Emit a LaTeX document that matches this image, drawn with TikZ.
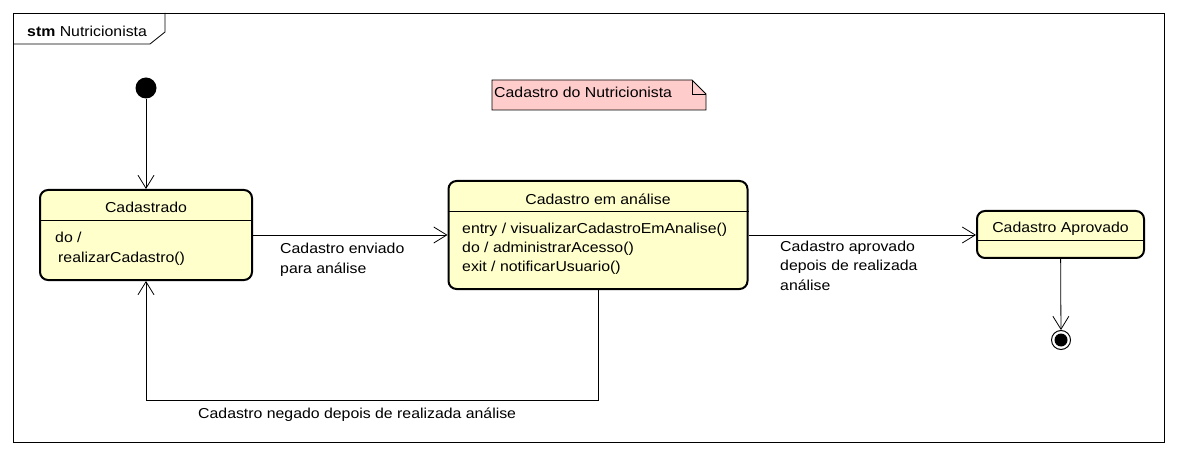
\documentclass[tikz,border=0pt]{standalone}
\usepackage{fontspec}
\setmainfont{Liberation Sans}[FakeStretch=1.1]
\usetikzlibrary{arrows.meta}
\definecolor{stfill}{HTML}{FFFFCC}
\definecolor{notefill}{HTML}{FFCCCC}
\begin{document}
\begin{tikzpicture}[x=1pt,y=-1pt,
  font=\fontsize{14.4}{19.5}\selectfont,
  statebox/.style={draw, line width=2pt, rounded corners=8pt, fill=stfill, inner sep=0pt},
  divider/.style={draw, line width=0.8pt},
  trans/.style={draw, line width=0.8pt, -{Straight Barb[length=13pt,width=16pt,line width=0.8pt]}},
  lbl/.style={inner sep=0pt, align=left, anchor=base west},
  ctext/.style={inner sep=0pt, anchor=base},
  framestyle/.style={draw, line width=0.8pt}]
\useasboundingbox (0,0) rectangle (1177,454);
% frame
\draw[framestyle] (13,13) rectangle (1164,442);
\draw[framestyle] (13,44) -- (150,44) -- (165,32) -- (165,13);
\node[lbl] (ttl) at (27,37) {\textbf{stm} Nutricionista};
% note
\draw[framestyle, fill=notefill] (492,80) -- (692,80) -- (706,94) -- (706,110) -- (492,110) -- cycle;
\draw[framestyle] (692,80) -- (692,94) -- (706,94);
\node[lbl] (notet) at (494,98) {Cadastro do Nutricionista};
% initial and final
\node[circle, fill=black, minimum size=21pt, inner sep=0pt] (init) at (146,88) {};
\node[circle, draw, line width=1pt, minimum size=19pt, inner sep=0pt] (fin) at (1061,340) {};
\fill (fin.center) circle (6.5pt);
% states
\node[statebox, minimum width=212pt, minimum height=90pt] (cad) at (146,235) {};
\draw[divider] ([yshift=-31pt]cad.north west) -- ([yshift=-31pt]cad.north east);
\node[ctext] (cadt) at (146,213) {Cadastrado};
\node[lbl] (cadb) at (55,262) {do /\\\hspace*{3pt}realizarCadastro()};

\node[statebox, minimum width=299pt, minimum height=108pt] (ana) at (598,235) {};
\draw[divider] ([yshift=-31pt]ana.north west) -- ([yshift=-31pt]ana.north east);
\node[ctext] (anat) at (598,205) {Cadastro em análise};
\node[lbl] (anab) at (462,272) {entry / visualizarCadastroEmAnalise()\\do / administrarAcesso()\\exit / notificarUsuario()};

\node[statebox, minimum width=167pt, minimum height=47pt] (apr) at (1060.5,234.5) {};
\draw[divider] ([yshift=-30pt]apr.north west) -- ([yshift=-30pt]apr.north east);
\node[ctext] (aprt) at (1060.5,233) {Cadastro Aprovado};
% transitions
\draw[trans] (init) -- (cad);
\draw[trans] (cad) -- (ana);
\draw[trans] (ana.east) -- (ana.east -| apr.west);
\draw[trans] (apr) -- (fin);
\draw[trans] (ana.south) -- ++(0,110) -| (cad.south);
% labels
\node[lbl] (l1) at (280,273) {Cadastro enviado\\para análise};
\node[lbl] (l2) at (780,290) {Cadastro aprovado\\depois de realizada\\análise};
\node[lbl] (l3) at (198,418) {Cadastro negado depois de realizada análise};
\end{tikzpicture}
\end{document}
